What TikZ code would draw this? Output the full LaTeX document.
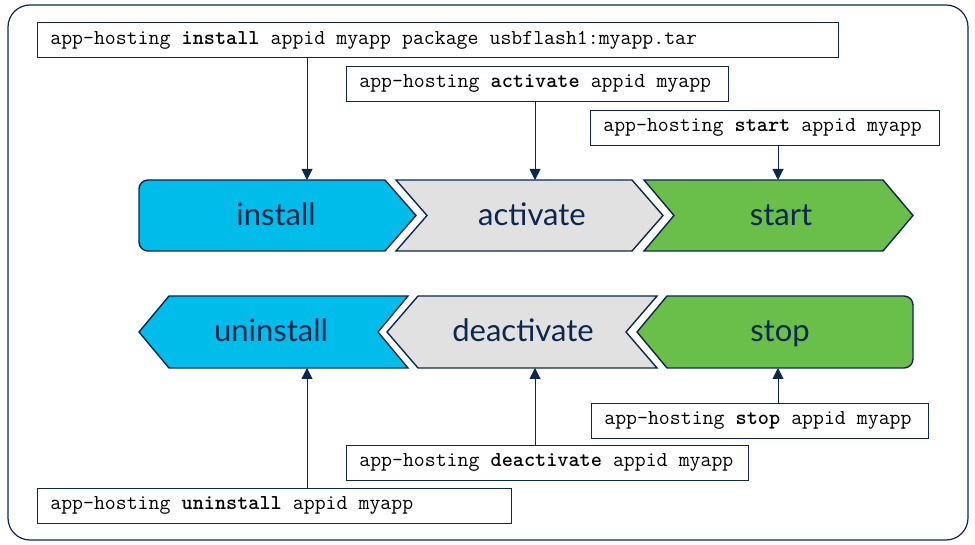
\documentclass[tikz,border=0pt]{standalone}
\usepackage{fontspec}
\newfontfamily\chevfont{Lato}
\usetikzlibrary{arrows.meta}
\definecolor{navy}{HTML}{0D274D}
\definecolor{appblue}{HTML}{00BCEB}
\definecolor{appgray}{HTML}{E1E1E1}
\definecolor{appgreen}{HTML}{6ABF4B}
\tikzset{
	cmd/.style={draw=navy, line width=0.8pt, fill=white, anchor=north west, minimum height=35pt, inner xsep=13pt, inner ysep=0pt, align=left, font=\ttfamily\fontsize{21.2}{22}\selectfont, execute at begin node={\spaceskip=0.525em\relax}},
	chev/.style={draw=navy, line width=1.4pt, line join=miter},
	lbl/.style={anchor=base, text=navy, font=\chevfont\fontsize{31}{33}\selectfont},
	link/.style={draw=navy, line width=1pt, -{Triangle[length=11pt,width=11pt]}}
}

\begin{document}
\begin{tikzpicture}[x=1pt, y=-1pt]
			\useasboundingbox (0,0) rectangle (975,545);
			\draw [navy, line width=1.2pt, rounded corners=22pt] (8,5) rectangle (968,540);
			% commands
			\node [cmd, text width=775pt] (cmdinstall) at (37,22) {app-hosting \textbf{install} appid myapp package usbflash1:myapp.tar};
			\node [cmd, text width=356pt] (cmdactivate) at (346,66) {app-hosting \textbf{activate} appid myapp};
			\node [cmd, text width=323pt] (cmdstart) at (590,110) {app-hosting \textbf{start} appid myapp};
			\node [cmd, text width=311pt] (cmdstop) at (591,403) {app-hosting \textbf{stop} appid myapp};
			\node [cmd, text width=376pt] (cmddeactivate) at (346,445) {app-hosting \textbf{deactivate} appid myapp};
			\node [cmd, text width=448pt] (cmduninstall) at (37,488) {app-hosting \textbf{uninstall} appid myapp};
			% top row
			\draw [chev, fill=appblue] (139,215.5) [rounded corners=9pt] -- (139,180) [sharp corners] -- (385,180) -- (416,215.5) -- (385,251) [rounded corners=9pt] -- (139,251) -- cycle;
			\draw [chev, fill=appgray] (396,180) -- (632,180) -- (663,215.5) -- (632,251) -- (396,251) -- (427,215.5) -- cycle;
			\draw [chev, fill=appgreen] (644,180) -- (883,180) -- (913,215.5) -- (883,251) -- (644,251) -- (674,215.5) -- cycle;
			\node [lbl] (install) at (276,226) {install};
			\node [lbl] (activate) at (532,226) {activate};
			\node [lbl] (start) at (781,226) {start};
			% bottom row
			\draw [chev, fill=appblue] (139,332) -- (169,296) -- (408,296) -- (378,332) -- (408,368) -- (169,368) -- cycle;
			\draw [chev, fill=appgray] (387,332) -- (418,296) -- (657,296) -- (626,332) -- (657,368) -- (418,368) -- cycle;
			\draw [chev, fill=appgreen] (913,332) [rounded corners=9pt] -- (913,368) [sharp corners] -- (667,368) -- (637,332) -- (667,296) [rounded corners=9pt] -- (913,296) -- cycle;
			\node [lbl] (uninstall) at (271,342) {uninstall};
			\node [lbl] (deactivate) at (523,342) {deactivate};
			\node [lbl] (stop) at (780,342) {stop};
			% links
			\coordinate (installin) at (307,180);
			\coordinate (activatein) at (535,180);
			\coordinate (startin) at (778,180);
			\coordinate (uninstallin) at (307,368);
			\coordinate (deactivatein) at (535,368);
			\coordinate (stopin) at (778,368);
			\draw [link] (cmdinstall.south -| installin) -- (installin);
			\draw [link] (cmdactivate.south -| activatein) -- (activatein);
			\draw [link] (cmdstart.south -| startin) -- (startin);
			\draw [link] (cmduninstall.north -| uninstallin) -- (uninstallin);
			\draw [link] (cmddeactivate.north -| deactivatein) -- (deactivatein);
			\draw [link] (cmdstop.north -| stopin) -- (stopin);
		\end{tikzpicture}
\end{document}
